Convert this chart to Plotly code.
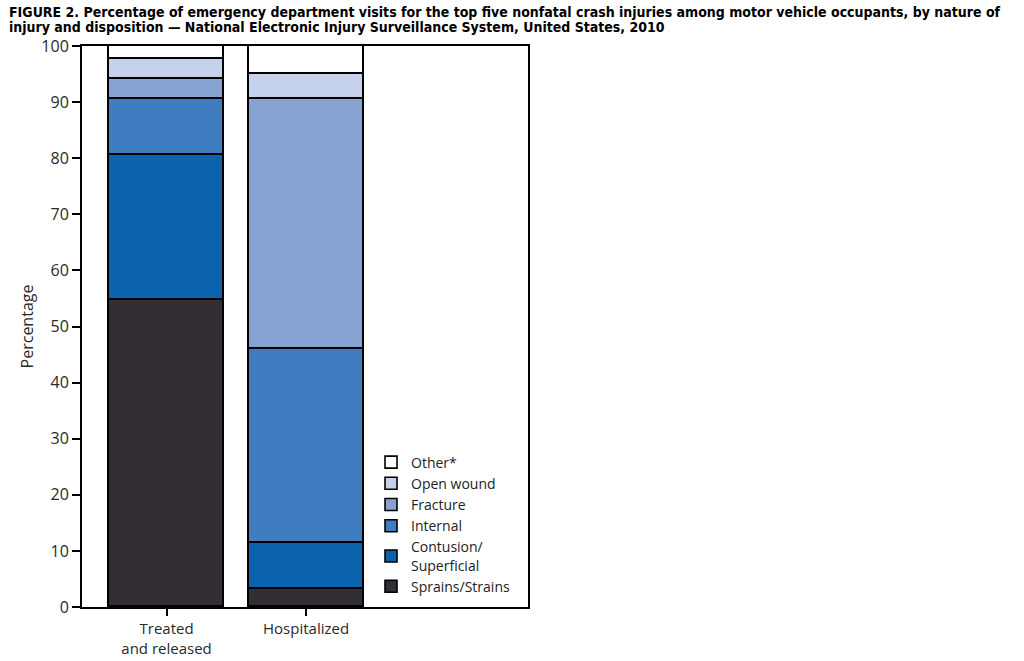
import plotly.graph_objects as go

# Datos (porcentajes por segmento)
dispositions = ['Treated<br>and released', 'Hospitalized']
injury_types = ['Sprains/Strains', 'Contusion/<br>Superficial', 'Internal', 'Fracture', 'Open wound', 'Other*']
sprains = [54.7, 3.2]
contusion = [25.8, 8.2]
internal = [10.0, 34.6]
fracture = [3.7, 44.5]
open_wound = [3.5, 4.5]
other = [2.3, 5.0]

y_ticks = list(range(0, 101, 10))

colors = {
    'Sprains/Strains': '#332e35',
    'Contusion/<br>Superficial': '#0b62ad',
    'Internal': '#3f7cc0',
    'Fracture': '#86a2d3',
    'Open wound': '#c6d2eb',
    'Other*': '#ffffff',
}

series = [sprains, contusion, internal, fracture, open_wound, other]
x_pos = [0, 1]

fig = go.Figure()
for name, vals in zip(injury_types, series):
    fig.add_trace(go.Bar(
        x=x_pos,
        y=vals,
        name=name,
        width=0.824,
        marker=dict(color=colors[name], line=dict(color='black', width=1.6)),
    ))

# Título en dos líneas (anotaciones separadas para controlar el interlineado)
titulo_1 = ('FIGURE 2. Percentage of emergency department visits for the top five nonfatal crash injuries '
            'among motor vehicle occupants, by nature of')
titulo_2 = 'injury and disposition — National Electronic Injury Surveillance System, United States, 2010'

fuente_titulo = dict(family='DejaVu Sans Condensed', size=14, color='black', weight='bold')

fig.update_layout(
    barmode='stack',
    width=1024,
    height=661,
    plot_bgcolor='white',
    paper_bgcolor='white',
    margin=dict(l=82, r=496, t=46, b=54, autoexpand=False),
    font=dict(family='Open Sans', color='#2a2a2a', size=16),
    legend=dict(
        traceorder='reversed',
        x=0.648, xanchor='left',
        y=0.008, yanchor='bottom',
        bgcolor='rgba(0,0,0,0)',
        font=dict(family='Open Sans', size=14, color='#222222'),
        tracegroupgap=0,
    ),
    bargap=0,
    annotations=[
        dict(text=titulo_1, xref='paper', yref='paper', x=-0.168, y=1.0 + 34 / 561,
             xanchor='left', yanchor='middle', showarrow=False, font=fuente_titulo),
        dict(text=titulo_2, xref='paper', yref='paper', x=-0.168, y=1.0 + 19 / 561,
             xanchor='left', yanchor='middle', showarrow=False, font=fuente_titulo),
    ],
)

fig.update_xaxes(
    range=[-0.606, 2.591],
    tickvals=x_pos,
    ticktext=dispositions,
    tickfont=dict(size=15),
    ticks='outside',
    ticklen=7,
    tickwidth=2,
    tickcolor='black',
    showline=True,
    linecolor='black',
    linewidth=2,
    mirror=True,
    showgrid=False,
    zeroline=False,
    automargin=False,
)

fig.update_yaxes(
    range=[0, 100],
    tickvals=y_ticks,
    ticks='outside',
    ticklen=8,
    tickwidth=2,
    tickcolor='black',
    showline=True,
    linecolor='black',
    linewidth=2,
    mirror=True,
    showgrid=False,
    zeroline=False,
    automargin=False,
    title=dict(text='Percentage', font=dict(size=16, color='#2a2a2a'), standoff=4),
)

# Quitar el margen por defecto del body para que la figura ocupe la ventana entera
fig.write_html('out.html', config={'displayModeBar': False},
               post_script="document.body.style.margin='0';")
